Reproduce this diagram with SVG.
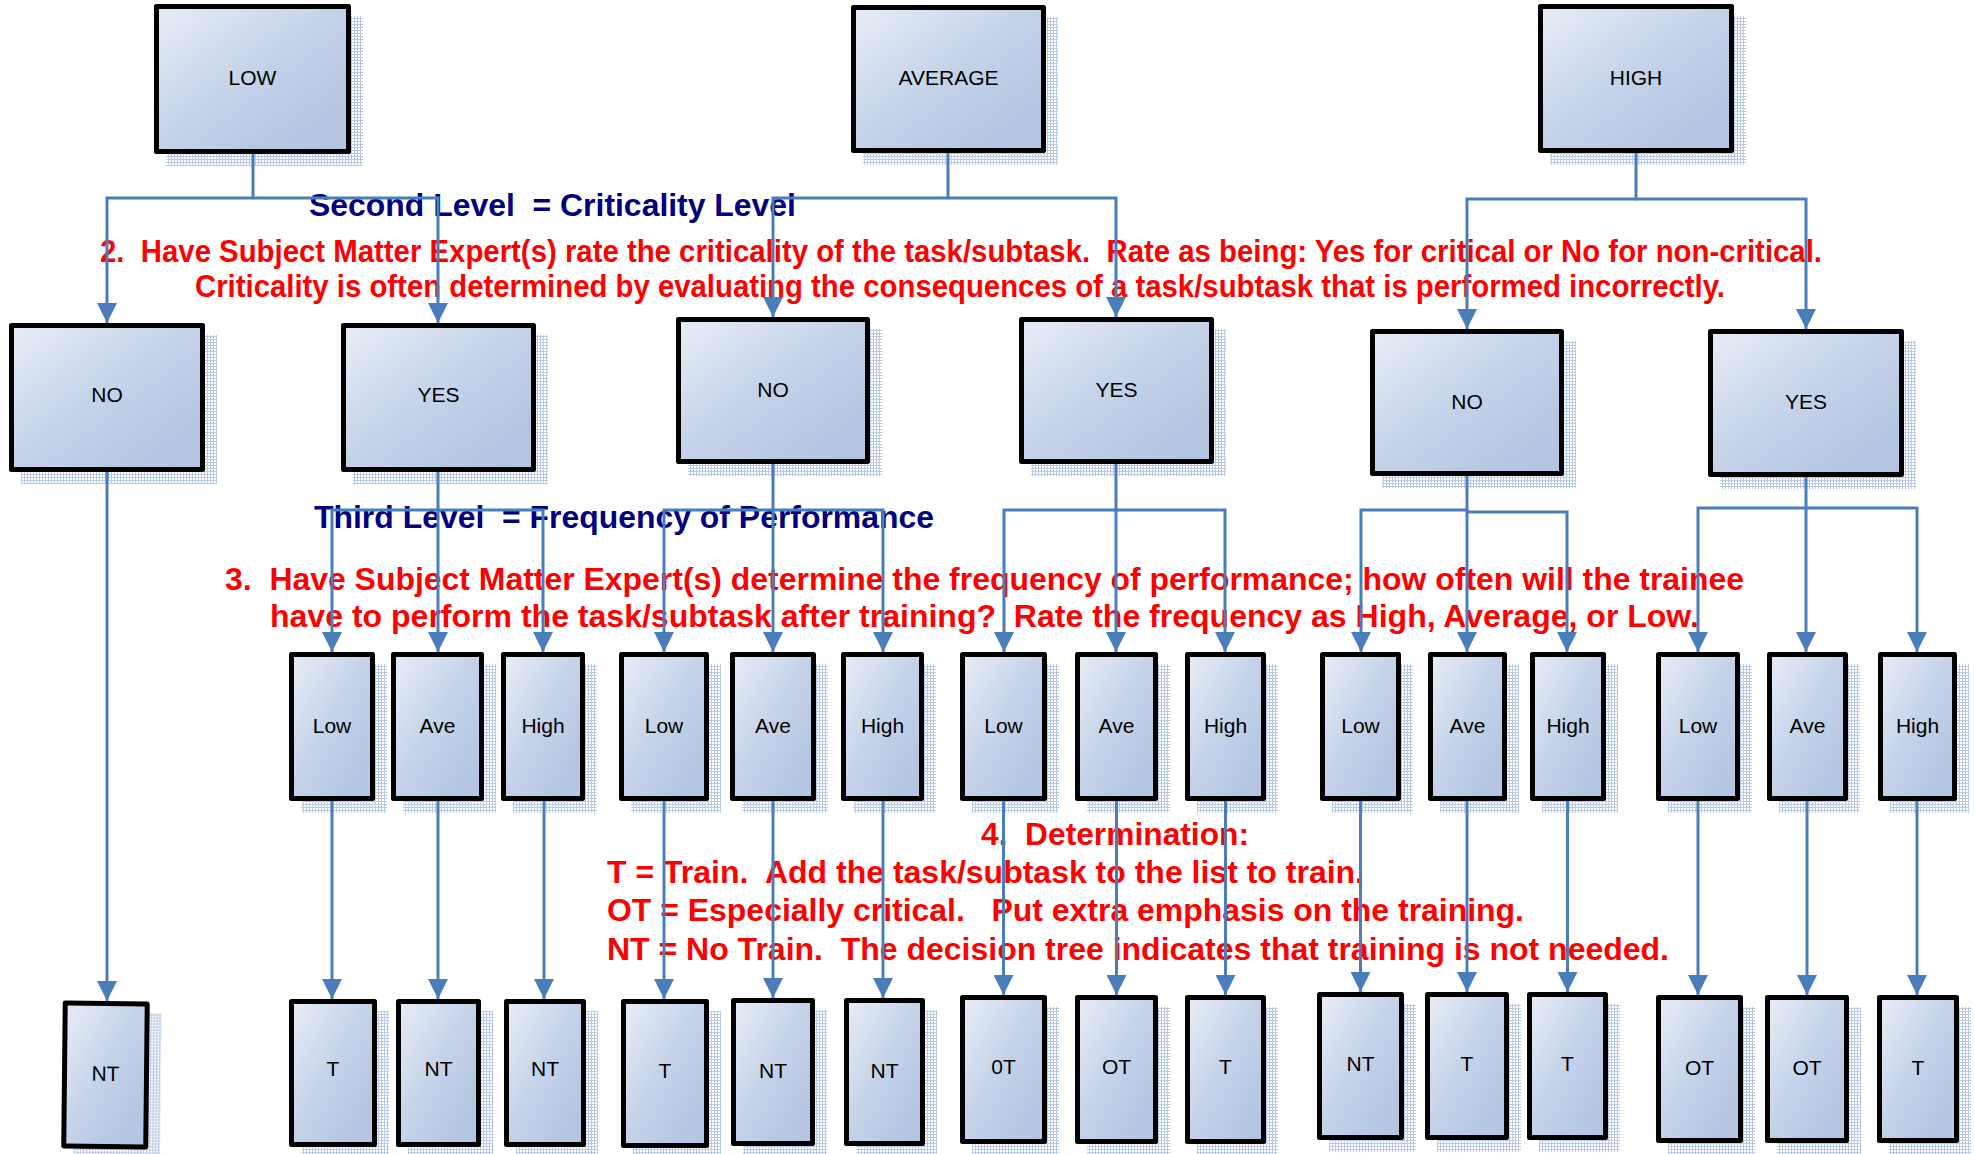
<svg xmlns="http://www.w3.org/2000/svg" width="1975" height="1154" viewBox="0 0 1975 1154">
<defs>
<linearGradient id="g" x1="0" y1="0" x2="1" y2="1">
<stop offset="0" stop-color="#e8edf7"/>
<stop offset="0.45" stop-color="#c6d4ea"/>
<stop offset="0.8" stop-color="#b5c7e2"/>
<stop offset="1" stop-color="#b3c5e1"/>
</linearGradient>
<pattern id="dots" width="3" height="3" patternUnits="userSpaceOnUse">
<rect width="3" height="3" fill="#ffffff"/>
<rect width="3" height="1" fill="#b9c9e8"/>
<rect width="1" height="3" fill="#b9c9e8"/>
</pattern>
<marker id="ah" viewBox="0 0 20 20" refX="20" refY="10" markerWidth="20" markerHeight="20" markerUnits="userSpaceOnUse" orient="auto">
<path d="M0,0 L20,10 L0,20 z" fill="#4a7ebb"/>
</marker>
<style>
.bx{fill:url(#g);stroke:#000;stroke-width:5;stroke-linejoin:round}
.sh{fill:url(#dots)}
.lbl{font-family:"Liberation Sans",Arial,sans-serif;font-size:21px;text-anchor:middle;fill:#000}
.red{font-family:"Liberation Sans",Arial,sans-serif;font-weight:bold;fill:#ff0000;white-space:pre}
.navy{font-family:"Liberation Sans",Arial,sans-serif;font-weight:bold;fill:#000080;white-space:pre}
.cn{fill:none;stroke:#4a7ebb;stroke-width:3}
.ar{marker-end:url(#ah)}
</style>
</defs>
<rect width="1975" height="1154" fill="#ffffff"/>

<g id="texts">
<text class="navy" x="309" y="216" font-size="31" textLength="487" lengthAdjust="spacingAndGlyphs" xml:space="preserve">Second Level  = Criticality Level</text>
<text class="red" x="100" y="262" font-size="31" textLength="1722" lengthAdjust="spacingAndGlyphs" xml:space="preserve">2.  Have Subject Matter Expert(s) rate the criticality of the task/subtask.  Rate as being: Yes for critical or No for non-critical.</text>
<text class="red" x="195" y="297" font-size="31" textLength="1530" lengthAdjust="spacingAndGlyphs" xml:space="preserve">Criticality is often determined by evaluating the consequences of a task/subtask that is performed incorrectly.</text>
<text class="navy" x="314" y="528" font-size="31" textLength="620" lengthAdjust="spacingAndGlyphs" xml:space="preserve">Third Level  = Frequency of Performance</text>
<text class="red" x="225" y="590" font-size="31" textLength="1519" lengthAdjust="spacingAndGlyphs" xml:space="preserve">3.  Have Subject Matter Expert(s) determine the frequency of performance; how often will the trainee</text>
<text class="red" x="270" y="627" font-size="31" textLength="1429" lengthAdjust="spacingAndGlyphs" xml:space="preserve">have to perform the task/subtask after training?  Rate the frequency as High, Average, or Low.</text>
<text class="red" x="981" y="845" font-size="31" textLength="268" lengthAdjust="spacingAndGlyphs" xml:space="preserve">4.  Determination:</text>
<text class="red" x="607" y="883" font-size="31" textLength="757" lengthAdjust="spacingAndGlyphs" xml:space="preserve">T = Train.  Add the task/subtask to the list to train.</text>
<text class="red" x="607" y="921" font-size="31" textLength="917" lengthAdjust="spacingAndGlyphs" xml:space="preserve">OT = Especially critical.   Put extra emphasis on the training.</text>
<text class="red" x="607" y="960" font-size="31" textLength="1062" lengthAdjust="spacingAndGlyphs" xml:space="preserve">NT = No Train.  The decision tree indicates that training is not needed.</text>
</g>

<g id="nodes">
<g id="n-low"><rect class="sh" x="166" y="16" width="197" height="150"/><rect class="bx" x="156.5" y="6.5" width="192" height="145"/><text class="lbl" x="252.5" y="85">LOW</text></g>
<g id="n-average"><rect class="sh" x="863" y="17" width="195" height="148"/><rect class="bx" x="853.5" y="7.5" width="190" height="143"/><text class="lbl" x="948.5" y="85">AVERAGE</text></g>
<g id="n-high"><rect class="sh" x="1550" y="16" width="196" height="149"/><rect class="bx" x="1540.5" y="6.5" width="191" height="144"/><text class="lbl" x="1636" y="85">HIGH</text></g>

<g id="n-low-no"><rect class="sh" x="21" y="335" width="196" height="149"/><rect class="bx" x="11.5" y="325.5" width="191" height="144"/><text class="lbl" x="107" y="402">NO</text></g>
<g id="n-low-yes"><rect class="sh" x="353" y="335" width="195" height="149"/><rect class="bx" x="343.5" y="325.5" width="190" height="144"/><text class="lbl" x="438.5" y="402">YES</text></g>
<g id="n-avg-no"><rect class="sh" x="688" y="329" width="194" height="147"/><rect class="bx" x="678.5" y="319.5" width="189" height="142"/><text class="lbl" x="773" y="396.5">NO</text></g>
<g id="n-avg-yes"><rect class="sh" x="1031" y="329" width="195" height="147"/><rect class="bx" x="1021.5" y="319.5" width="190" height="142"/><text class="lbl" x="1116.5" y="396.5">YES</text></g>
<g id="n-high-no"><rect class="sh" x="1382" y="341" width="194" height="147"/><rect class="bx" x="1372.5" y="331.5" width="189" height="142"/><text class="lbl" x="1467" y="408.5">NO</text></g>
<g id="n-high-yes"><rect class="sh" x="1720" y="341" width="196" height="148"/><rect class="bx" x="1710.5" y="331.5" width="191" height="143"/><text class="lbl" x="1806" y="409">YES</text></g>

<g id="n-ly-low"><rect class="sh" x="301" y="664" width="86" height="149"/><rect class="bx" x="291.5" y="654.5" width="81" height="144"/><text class="lbl" x="332" y="732.5">Low</text></g>
<g id="n-ly-ave"><rect class="sh" x="403" y="664" width="93" height="149"/><rect class="bx" x="393.5" y="654.5" width="88" height="144"/><text class="lbl" x="437.5" y="732.5">Ave</text></g>
<g id="n-ly-high"><rect class="sh" x="513" y="664" width="84" height="149"/><rect class="bx" x="503.5" y="654.5" width="79" height="144"/><text class="lbl" x="543" y="732.5">High</text></g>
<g id="n-an-low"><rect class="sh" x="631" y="664" width="90" height="149"/><rect class="bx" x="621.5" y="654.5" width="85" height="144"/><text class="lbl" x="664" y="732.5">Low</text></g>
<g id="n-an-ave"><rect class="sh" x="742" y="664" width="86" height="149"/><rect class="bx" x="732.5" y="654.5" width="81" height="144"/><text class="lbl" x="773" y="732.5">Ave</text></g>
<g id="n-an-high"><rect class="sh" x="853" y="664" width="83" height="149"/><rect class="bx" x="843.5" y="654.5" width="78" height="144"/><text class="lbl" x="882.5" y="732.5">High</text></g>
<g id="n-ay-low"><rect class="sh" x="972" y="664" width="87" height="149"/><rect class="bx" x="962.5" y="654.5" width="82" height="144"/><text class="lbl" x="1003.5" y="732.5">Low</text></g>
<g id="n-ay-ave"><rect class="sh" x="1087" y="664" width="83" height="149"/><rect class="bx" x="1077.5" y="654.5" width="78" height="144"/><text class="lbl" x="1116.5" y="732.5">Ave</text></g>
<g id="n-ay-high"><rect class="sh" x="1197" y="664" width="81" height="149"/><rect class="bx" x="1187.5" y="654.5" width="76" height="144"/><text class="lbl" x="1225.5" y="732.5">High</text></g>
<g id="n-hn-low"><rect class="sh" x="1332" y="664" width="81" height="149"/><rect class="bx" x="1322.5" y="654.5" width="76" height="144"/><text class="lbl" x="1360.5" y="732.5">Low</text></g>
<g id="n-hn-ave"><rect class="sh" x="1440" y="664" width="79" height="149"/><rect class="bx" x="1430.5" y="654.5" width="74" height="144"/><text class="lbl" x="1467.5" y="732.5">Ave</text></g>
<g id="n-hn-high"><rect class="sh" x="1542" y="664" width="76" height="149"/><rect class="bx" x="1532.5" y="654.5" width="71" height="144"/><text class="lbl" x="1568" y="732.5">High</text></g>
<g id="n-hy-low"><rect class="sh" x="1668" y="664" width="84" height="149"/><rect class="bx" x="1658.5" y="654.5" width="79" height="144"/><text class="lbl" x="1698" y="732.5">Low</text></g>
<g id="n-hy-ave"><rect class="sh" x="1779" y="664" width="81" height="149"/><rect class="bx" x="1769.5" y="654.5" width="76" height="144"/><text class="lbl" x="1807.5" y="732.5">Ave</text></g>
<g id="n-hy-high"><rect class="sh" x="1890" y="664" width="79" height="149"/><rect class="bx" x="1880.5" y="654.5" width="74" height="144"/><text class="lbl" x="1917.5" y="732.5">High</text></g>

<g id="n-ln-nt" transform="rotate(0.6 105.5 1075)"><rect class="sh" x="74" y="1013" width="87" height="141"/><rect class="bx" x="64.5" y="1003.5" width="82" height="143"/><text class="lbl" x="105.5" y="1081">NT</text></g>
<g id="n-ly-t"><rect class="sh" x="301" y="1011" width="88" height="143"/><rect class="bx" x="291.5" y="1001.5" width="83" height="143"/><text class="lbl" x="333" y="1075.5">T</text></g>
<g id="n-ly-nt1"><rect class="sh" x="408" y="1011" width="85" height="143"/><rect class="bx" x="398.5" y="1001.5" width="80" height="143"/><text class="lbl" x="438.5" y="1075.5">NT</text></g>
<g id="n-ly-nt2"><rect class="sh" x="516" y="1011" width="82" height="143"/><rect class="bx" x="506.5" y="1001.5" width="77" height="143"/><text class="lbl" x="545" y="1075.5">NT</text></g>
<g id="n-an-t"><rect class="sh" x="633" y="1011" width="88" height="143"/><rect class="bx" x="623.5" y="1001.5" width="83" height="144"/><text class="lbl" x="665" y="1077.5">T</text></g>
<g id="n-an-nt1"><rect class="sh" x="743" y="1010" width="84" height="144"/><rect class="bx" x="733.5" y="1000.5" width="79" height="143"/><text class="lbl" x="773" y="1077.5">NT</text></g>
<g id="n-an-nt2"><rect class="sh" x="856" y="1010" width="81" height="144"/><rect class="bx" x="846.5" y="1000.5" width="76" height="143"/><text class="lbl" x="884.5" y="1077.5">NT</text></g>
<g id="n-ay-0t"><rect class="sh" x="972" y="1007" width="87" height="147"/><rect class="bx" x="962.5" y="997.5" width="82" height="144"/><text class="lbl" x="1003.5" y="1074">0T</text></g>
<g id="n-ay-ot"><rect class="sh" x="1087" y="1007" width="83" height="147"/><rect class="bx" x="1077.5" y="997.5" width="78" height="144"/><text class="lbl" x="1116.5" y="1074">OT</text></g>
<g id="n-ay-t"><rect class="sh" x="1197" y="1007" width="81" height="147"/><rect class="bx" x="1187.5" y="997.5" width="76" height="144"/><text class="lbl" x="1225.5" y="1074">T</text></g>
<g id="n-hn-nt"><rect class="sh" x="1329" y="1004" width="87" height="148"/><rect class="bx" x="1319.5" y="994.5" width="82" height="143"/><text class="lbl" x="1360.5" y="1070.5">NT</text></g>
<g id="n-hn-t1"><rect class="sh" x="1437" y="1004" width="84" height="148"/><rect class="bx" x="1427.5" y="994.5" width="79" height="143"/><text class="lbl" x="1467" y="1070.5">T</text></g>
<g id="n-hn-t2"><rect class="sh" x="1539" y="1004" width="81" height="148"/><rect class="bx" x="1529.5" y="994.5" width="76" height="143"/><text class="lbl" x="1567.5" y="1070.5">T</text></g>
<g id="n-hy-ot1"><rect class="sh" x="1668" y="1007" width="87" height="147"/><rect class="bx" x="1658.5" y="997.5" width="82" height="143"/><text class="lbl" x="1699.5" y="1075">OT</text></g>
<g id="n-hy-ot2"><rect class="sh" x="1777" y="1007" width="84" height="147"/><rect class="bx" x="1767.5" y="997.5" width="79" height="143"/><text class="lbl" x="1807" y="1075">OT</text></g>
<g id="n-hy-t"><rect class="sh" x="1889" y="1007" width="82" height="147"/><rect class="bx" x="1879.5" y="997.5" width="77" height="143"/><text class="lbl" x="1918" y="1075">T</text></g>
</g>

<g id="connectors">
<path class="cn ar" d="M253,154 V198 H107 V323"/>
<path class="cn ar" d="M253,198 H438 V323"/>
<path class="cn ar" d="M948,153 V198 H773 V317"/>
<path class="cn ar" d="M948,198 H1116 V317"/>
<path class="cn ar" d="M1636,153 V199 H1467 V329"/>
<path class="cn ar" d="M1636,199 H1806 V329"/>

<path class="cn ar" d="M107,472 V1001"/>
<path class="cn ar" d="M438,472 V510 H332 V652"/>
<path class="cn ar" d="M438,510 V652"/>
<path class="cn ar" d="M438,510 H543 V652"/>
<path class="cn ar" d="M773,464 V510 H664 V652"/>
<path class="cn ar" d="M773,510 V652"/>
<path class="cn ar" d="M773,510 H883 V652"/>
<path class="cn ar" d="M1116,464 V510 H1004 V652"/>
<path class="cn ar" d="M1116,510 V652"/>
<path class="cn ar" d="M1116,510 H1225 V652"/>
<path class="cn ar" d="M1467,476 V510 H1361 V652"/>
<path class="cn ar" d="M1467,510 V652"/>
<path class="cn ar" d="M1467,512 H1567 V652"/>
<path class="cn ar" d="M1806,477 V508 H1698 V652"/>
<path class="cn ar" d="M1806,508 V652"/>
<path class="cn ar" d="M1806,508 H1917 V652"/>

<path class="cn ar" d="M332,801 V999"/>
<path class="cn ar" d="M438,801 V999"/>
<path class="cn ar" d="M544,801 V999"/>
<path class="cn ar" d="M664,801 V999"/>
<path class="cn ar" d="M773,801 V998"/>
<path class="cn ar" d="M883,801 V998"/>
<path class="cn ar" d="M1003.5,801 V995"/>
<path class="cn ar" d="M1116.5,801 V995"/>
<path class="cn ar" d="M1225.5,801 V995"/>
<path class="cn ar" d="M1360.5,801 V992"/>
<path class="cn ar" d="M1467,801 V992"/>
<path class="cn ar" d="M1567.5,801 V992"/>
<path class="cn ar" d="M1698,801 V995"/>
<path class="cn ar" d="M1807,801 V995"/>
<path class="cn ar" d="M1917,801 V995"/>
</g>
</svg>
